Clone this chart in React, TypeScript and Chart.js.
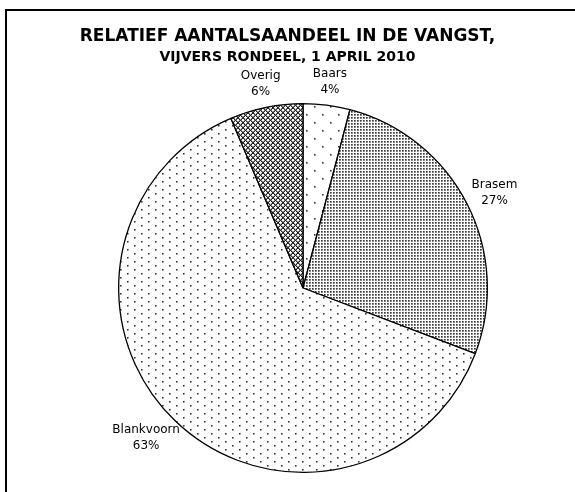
import React, { useEffect, useRef } from 'react';
import { Chart, registerables } from 'chart.js';

Chart.register(...registerables);

const categories = ['Baars', 'Brasem', 'Blankvoorn', 'Overig'];
const shares = [4.1, 26.7, 62.8, 6.4];
const titleLines = ['RELATIEF AANTALSAANDEEL IN DE VANGST,', 'VIJVERS RONDEEL, 1 APRIL 2010'];

const FONT = '"DejaVu Sans", Verdana, sans-serif';

function makePattern(w: number, h: number, draw: (g: CanvasRenderingContext2D) => void) {
  const c = document.createElement('canvas');
  c.width = w;
  c.height = h;
  const g = c.getContext('2d')!;
  g.fillStyle = '#ffffff';
  g.fillRect(0, 0, w, h);
  draw(g);
  return g.createPattern(c, 'repeat')!;
}

function dot(g: CanvasRenderingContext2D, x: number, y: number) {
  g.fillStyle = '#333333';
  g.fillRect(x, y, 1, 1);
  g.fillStyle = '#8a8a8a';
  g.fillRect(x + 1, y, 1, 1);
  g.fillRect(x, y + 1, 1, 1);
  g.fillStyle = '#b8b8b8';
  g.fillRect(x + 1, y + 1, 1, 1);
}

function buildPatterns() {
  const baars = makePattern(16, 16, (g) => {
    dot(g, 2, 2);
    dot(g, 10, 10);
  });
  const brasem = makePattern(3, 3, (g) => {
    g.fillStyle = '#3a3a3a';
    g.fillRect(0, 0, 1, 1);
    g.fillStyle = '#777777';
    g.fillRect(1, 0, 1, 1);
    g.fillRect(0, 1, 1, 1);
    g.fillStyle = '#999999';
    g.fillRect(1, 1, 1, 1);
  });
  const blank = makePattern(14, 8, (g) => {
    dot(g, 1, 1);
    dot(g, 8, 5);
  });
  const overig = makePattern(5, 5, (g) => {
    for (let y = 0; y < 5; y++) {
      for (let x = 0; x < 5; x++) {
        const a = (x - y + 10) % 5;
        const b = (x + y) % 5;
        if (a === 0 || b === 0) {
          g.fillStyle = '#262626';
          g.fillRect(x, y, 1, 1);
        } else if (a === 1 || b === 4) {
          g.fillStyle = '#8a8a8a';
          g.fillRect(x, y, 1, 1);
        }
      }
    }
  });
  return [baars, brasem, blank, overig];
}

const labelPlugin = {
  id: 'pieLabels',
  afterDatasetsDraw(chart: any) {
    const ctx = chart.ctx as CanvasRenderingContext2D;
    const meta = chart.getDatasetMeta(0);
    const data = chart.data.datasets[0].data as number[];
    const total = data.reduce((s, v) => s + v, 0);
    ctx.save();
    ctx.font = `12px ${FONT}`;
    ctx.fillStyle = '#000000';
    ctx.textAlign = 'center';
    ctx.textBaseline = 'middle';
    const lh = 16;
    meta.data.forEach((arc: any, i: number) => {
      const { x, y, startAngle, endAngle, outerRadius } = arc.getProps(
        ['x', 'y', 'startAngle', 'endAngle', 'outerRadius'],
        true
      );
      const mid = (startAngle + endAngle) / 2;
      const lines = [String(chart.data.labels[i]), Math.round((data[i] / total) * 100) + '%'];
      const w = Math.max(...lines.map((l) => ctx.measureText(l).width));
      const h = lines.length * lh;
      const d = outerRadius + 8;
      const px = x + Math.cos(mid) * d;
      const py = y + Math.sin(mid) * d;
      const cx = px + Math.cos(mid) * (w / 2);
      const cy = py + Math.sin(mid) * (h / 2);
      lines.forEach((l, k) => {
        ctx.fillText(l, cx, cy - h / 2 + lh / 2 + k * lh);
      });
    });
    ctx.restore();
  },
};

const titlePlugin = {
  id: 'twoLineTitle',
  afterDraw(chart: any) {
    const ctx = chart.ctx as CanvasRenderingContext2D;
    ctx.save();
    ctx.fillStyle = '#000000';
    ctx.textAlign = 'center';
    ctx.textBaseline = 'middle';
    const cx = chart.width / 2;
    ctx.font = `bold 17px ${FONT}`;
    ctx.fillText(titleLines[0], cx, 37);
    ctx.font = `bold 14px ${FONT}`;
    ctx.fillText(titleLines[1], cx, 57);
    ctx.restore();
  },
};

export default function App() {
  const ref = useRef<HTMLCanvasElement | null>(null);
  useEffect(() => {
    if (!ref.current) return;
    const patterns = buildPatterns();
    const chart = new Chart(ref.current, {
      type: 'pie',
      data: {
        labels: categories,
        datasets: [
          {
            data: shares,
            backgroundColor: patterns as any,
            borderColor: '#000000',
            borderWidth: 1.3,
          },
        ],
      },
      options: {
        responsive: false,
        animation: false,
        rotation: 0,
        layout: { padding: { left: 118, right: 87, top: 103, bottom: 19 } },
        plugins: {
          legend: { display: false },
          title: { display: false },
          tooltip: { enabled: false },
        },
      },
      plugins: [labelPlugin, titlePlugin],
    });
    return () => chart.destroy();
  }, []);
  return (
    <div
      style={{
        position: 'absolute',
        left: 0,
        top: 0,
        width: 575,
        height: 492,
        overflow: 'hidden',
        background: '#ffffff',
      }}
    >
      <div
        style={{
          position: 'absolute',
          left: 5,
          top: 9,
          width: 700,
          height: 700,
          border: '2px solid #000000',
        }}
      />
      <canvas ref={ref} width={575} height={492} style={{ position: 'absolute', left: 0, top: 0 }} />
    </div>
  );
}
